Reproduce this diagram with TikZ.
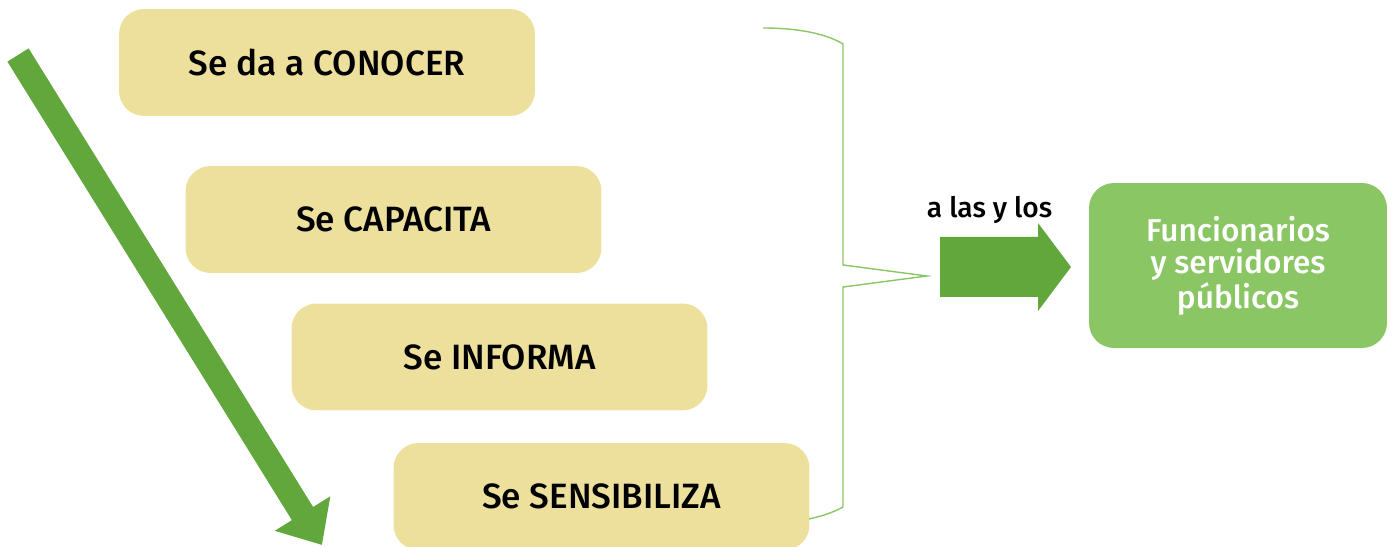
\documentclass[tikz,border=0pt]{standalone}
\usepackage{fontspec}
\setmainfont{Fira Sans}[UprightFont=* Medium,BoldFont=* SemiBold]
\usetikzlibrary{arrows.meta}
\definecolor{paja}{RGB}{237,224,157}
\definecolor{verdeosc}{RGB}{98,167,60}
\definecolor{verdecla}{RGB}{139,198,101}

\begin{document}
\begin{tikzpicture}[x=0.02cm,y=-0.02cm,
	accion/.style={fill=paja, rounded corners=0.5cm, minimum width=8.32cm, minimum height=2.14cm, font=\fontsize{20}{24}\selectfont},
	destino/.style={fill=verdecla, rounded corners=0.5cm, minimum width=5.96cm, minimum height=3.3cm, text=white, align=center, font=\fontsize{18}{18.5}\selectfont}]
	\useasboundingbox (0,0) rectangle (1394,547);
	% los cuatro pasos
	\node[accion] (conocer) at (327,62.5) {Se da a CONOCER};
	\node[accion] (capacita) at (393.5,219.5) {Se CAPACITA};
	\node[accion] (informa) at (499.5,357) {Se INFORMA};
	\node[accion] (sensibiliza) at (601.5,496.5) {Se SENSIBILIZA};
	\node[destino] (servidores) at (1238,265.5) {Funcionarios\\y servidores\\públicos};
	% flecha diagonal
	\coordinate (ini) at (18,55);
	\coordinate (fin) at (322,545);
	\draw[verdeosc, line width=0.5cm, -{Triangle[length=0.74cm, width=1.26cm]}] (ini) -- (fin);
	% llave
	\draw[verdecla, line width=0.8pt] (763,28) .. controls (805,28) and (830,36) .. (843,44) -- (843,265) -- (927,276) -- (843,287) -- (843,507) .. controls (832,513) and (822,516) .. (809,519);
	% flecha hacia la derecha
	\fill[verdeosc] (940,237) -- (1038,237) -- (1038,223) -- (1071,267) -- (1038,311) -- (1038,297) -- (940,297) -- cycle;
	\node[anchor=base, font=\fontsize{16}{18}\selectfont] (alos) at (989.5,218) {a las y los};
\end{tikzpicture}
\end{document}
